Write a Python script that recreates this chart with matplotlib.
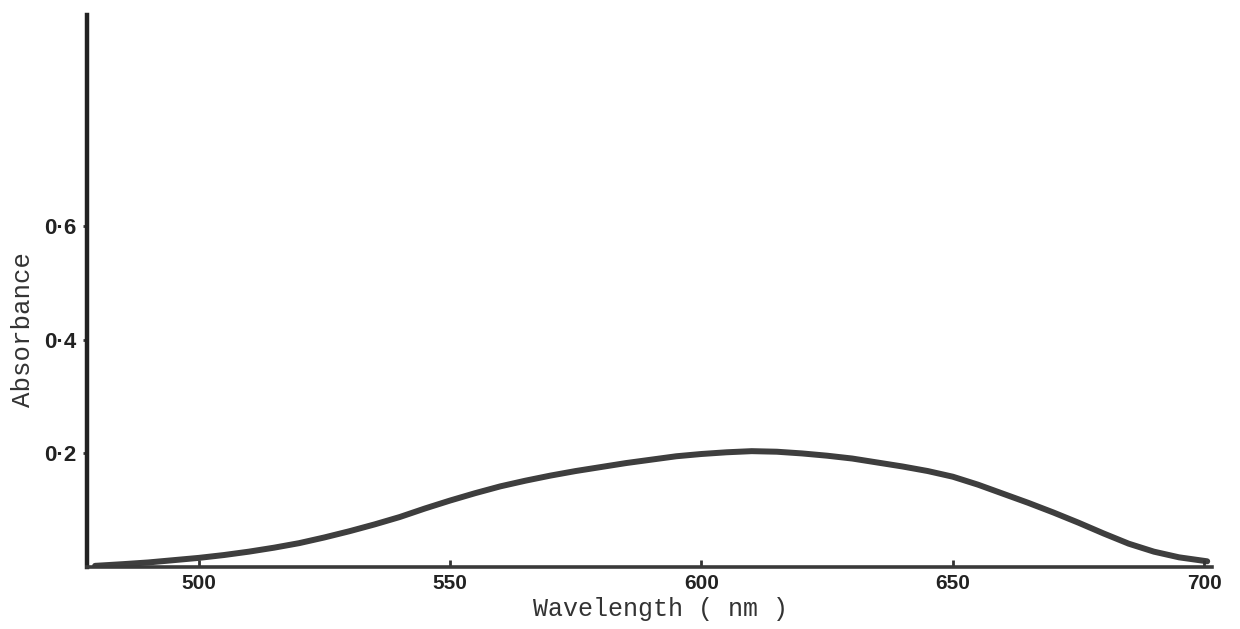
import numpy as np
import matplotlib
matplotlib.use("Agg")
import matplotlib.pyplot as plt

# absorbance spectrum
wavelength = [479.4, 485, 490, 495, 500, 505, 510, 515, 520, 525, 530, 535, 540, 545,
              550, 555, 560, 565, 570, 575, 580, 585, 590, 595, 600, 605, 610, 615,
              620, 625, 630, 635, 640, 645, 650, 655, 660, 665, 670, 675, 680, 685,
              690, 695, 698.6, 700.6]
absorbance = [0.002, 0.005, 0.008, 0.012, 0.016, 0.021, 0.027, 0.034, 0.042, 0.052,
              0.063, 0.075, 0.088, 0.103, 0.117, 0.130, 0.142, 0.152, 0.161, 0.169,
              0.176, 0.183, 0.189, 0.195, 0.199, 0.202, 0.204, 0.203, 0.200, 0.196,
              0.191, 0.184, 0.177, 0.169, 0.159, 0.145, 0.129, 0.113, 0.096, 0.078,
              0.059, 0.041, 0.027, 0.017, 0.0125, 0.01]

x_ticks = [500, 550, 600, 650, 700]
y_ticks = [0.2, 0.4, 0.6]
y_tick_labels = ["0\u00b72", "0\u00b74", "0\u00b76"]

tick_font = ["Liberation Sans Narrow", "Liberation Sans", "DejaVu Sans"]

fig = plt.figure(figsize=(12.4, 6.29), dpi=100)
ax = fig.add_axes([0.0702, 0.0986, 0.907, 0.8774])

ax.plot(wavelength, absorbance, color="#333333", lw=4.3, solid_capstyle="round",
        solid_joinstyle="round", alpha=0.95)

ax.set_xlim(477.8, 701.5)
ax.set_ylim(0, 0.972)

for s in ["top", "right"]:
    ax.spines[s].set_visible(False)
ax.spines["left"].set_linewidth(3.2)
ax.spines["left"].set_color("#222222")
ax.spines["bottom"].set_linewidth(2.6)
ax.spines["bottom"].set_color("#3a3a3a")

ax.set_xticks(x_ticks)
ax.set_xticklabels([str(t) for t in x_ticks], fontsize=15, fontweight="bold",
                   family=tick_font, color="#222222")
ax.tick_params(axis="x", direction="in", length=5, width=2, color="#333333", pad=5)

ax.set_yticks(y_ticks)
ax.set_yticklabels(y_tick_labels, fontsize=16, fontweight="bold",
                   family=tick_font, color="#222222")
ax.tick_params(axis="y", direction="out", length=3, width=2, color="#333333", pad=5)

ax.set_xlabel("Wavelength ( nm )", fontsize=18, family="Liberation Mono", color="#333333")
ax.xaxis.set_label_coords(0.51, -0.055)
ax.set_ylabel("Absorbance", fontsize=18.5, family="Liberation Mono", color="#333333")
ax.yaxis.set_label_coords(-0.046, 0.43)

fig.savefig("out.png", dpi=100, facecolor="white")
